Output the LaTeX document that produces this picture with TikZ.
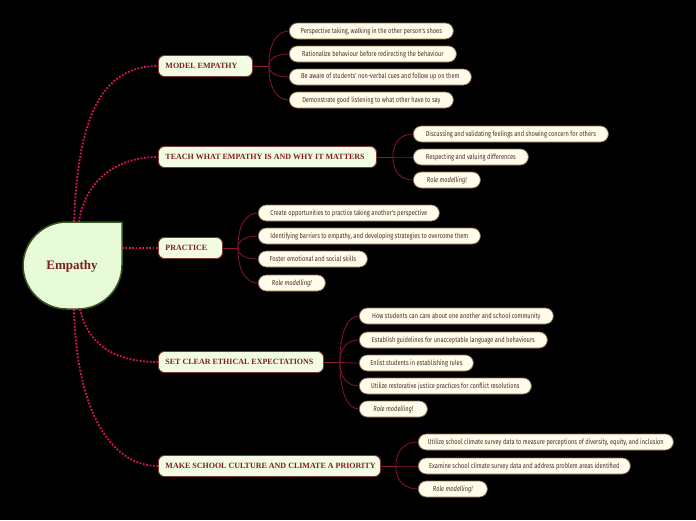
\documentclass[tikz,border=0pt]{standalone}
\usepackage{fontspec}
\setmainfont{Liberation Serif}
\newfontfamily\cfont[FakeStretch=0.79]{Fira Sans}
\usetikzlibrary{calc}
\definecolor{bgc}{HTML}{000000}
\definecolor{mainfill}{HTML}{F2FCE2}
\definecolor{mainborder}{HTML}{7A3A2E}
\definecolor{maintext}{HTML}{7A1F24}
\definecolor{childfill}{HTML}{FFFDEA}
\definecolor{childborder}{HTML}{8C6E50}
\definecolor{childtext}{HTML}{4A2C2A}
\definecolor{centerfill}{HTML}{E8FBD8}
\definecolor{centerborder}{HTML}{33591E}
\definecolor{dotline}{HTML}{E0105A}
\definecolor{thinline}{HTML}{8B1538}
\newcommand\clinkto[2]{\draw[clink] (#1) .. controls ($(#1)!0.7!(#1 |- #2.west)$) and ($(#1 |- #2.west)!0.45!(#2.west)$) .. (#2.west);}
\begin{document}
\begin{tikzpicture}[x=1pt,y=-1pt,
  mainbox/.style={draw=mainborder, line width=0.9pt, fill=mainfill, rounded corners=6pt,
    minimum height=21pt, inner xsep=7pt, inner ysep=0pt, anchor=west, text=maintext,
    font=\fontsize{8}{9}\selectfont\bfseries},
  childbox/.style={draw=childborder, line width=0.7pt, fill=childfill, rounded corners=8pt,
    minimum height=16pt, minimum width=#1, inner sep=0pt, anchor=west, text=childtext,
    font=\cfont\fontsize{7.2}{8}\selectfont},
  dotlink/.style={draw=dotline, line width=1.8pt, dash pattern=on 1.8pt off 1.6pt},
  clink/.style={draw=thinline, line width=0.8pt},
  stub/.style={draw=thinline, line width=1pt}]
\fill[bgc] (0,0) rectangle (696,520);

% central node
\draw[centerborder, fill=centerfill, line width=1.5pt, rounded corners=44pt, line cap=rect]
  (122,222) -- (122,309) -- (23,309) -- (23,222) -- (122,222);
\node[text=maintext, font=\fontsize{13}{15}\selectfont\bfseries] (emp) at (72,266) {Empathy};
\coordinate (ct1) at (74,222);
\coordinate (ct2) at (79,222);
\coordinate (cr) at (122,248);
\coordinate (cb1) at (80,309);
\coordinate (cb2) at (74,309);

% main nodes
\node[mainbox] (m1) at (158,66) {\makebox[80pt][l]{MODEL EMPATHY}};
\node[mainbox] (m2) at (158,157) {\makebox[204pt][l]{TEACH WHAT EMPATHY IS AND WHY IT MATTERS}};
\node[mainbox] (m3) at (158,248) {\makebox[50pt][l]{PRACTICE}};
\node[mainbox] (m4) at (158,362) {\makebox[151pt][l]{SET CLEAR ETHICAL EXPECTATIONS}};
\node[mainbox] (m5) at (158,466) {\makebox[208pt][l]{MAKE SCHOOL CULTURE AND CLIMATE A PRIORITY}};

% center links
\draw[dotlink] (ct1) .. controls (78,110) and (105,66) .. (m1.west);
\draw[dotlink] (ct2) .. controls (84,185) and (112,157) .. (m2.west);
\draw[dotlink] (cr) -- (m3.west);
\draw[dotlink] (cb1) .. controls (88,345) and (115,362) .. (m4.west);
\draw[dotlink] (cb2) .. controls (76,405) and (108,466) .. (m5.west);

% children
\node[childbox=164pt] (c11) at (289,31) {Perspective taking, walking in the other person's shoes};
\node[childbox=167pt] (c12) at (289,54) {Rationalize behaviour before redirecting the behaviour};
\node[childbox=182pt] (c13) at (289,77) {Be aware of students' non-verbal cues and follow up on them};
\node[childbox=164pt] (c14) at (289,100) {Demonstrate good listening to what other have to say};

\node[childbox=195pt] (c21) at (413,134) {Discussing and validating feelings and showing concern for others};
\node[childbox=115pt] (c22) at (413,157) {Respecting and valuing differences};
\node[childbox=67pt] (c23) at (413,180) {\itshape Role modelling!};

\node[childbox=181pt] (c31) at (258,213) {Create opportunities to practice taking another's perspective};
\node[childbox=222pt] (c32) at (258,236) {Identifying barriers to empathy, and developing strategies to overcome them};
\node[childbox=109pt] (c33) at (258,259) {Foster emotional and social skills};
\node[childbox=67pt] (c34) at (258,283) {\itshape Role modelling!};

\node[childbox=194pt] (c41) at (359,316) {How students can care about one another and school community};
\node[childbox=188pt] (c42) at (359,340) {Establish guidelines for unacceptable language and behaviours};
\node[childbox=114pt] (c43) at (359,363) {Enlist students in establishing rules};
\node[childbox=172pt] (c44) at (359,386) {Utilize restorative justice practices for conflict resolutions};
\node[childbox=68pt] (c45) at (359,409) {\itshape Role modelling!};

\node[childbox=255pt] (c51) at (418,442) {Utilize school climate survey data to measure perceptions of diversity, equity, and inclusion};
\node[childbox=212pt] (c52) at (418,466) {Examine school climate survey data and address problem areas identified};
\node[childbox=69pt] (c53) at (418,489) {\itshape Role modelling!};

% branch points
\coordinate (b1) at ($(m1.east)+(16,0)$);
\coordinate (b2) at ($(m2.east)+(16,0)$);
\coordinate (b3) at ($(m3.east)+(15,0)$);
\coordinate (b4) at ($(m4.east)+(16,0)$);
\coordinate (b5) at ($(m5.east)+(15,0)$);
\draw[stub] (m1.east) -- (b1);
\draw[stub] (m2.east) -- (b2);
\draw[stub] (m3.east) -- (b3);
\draw[stub] (m4.east) -- (b4);
\draw[stub] (m5.east) -- (b5);

\clinkto{b1}{c11}\clinkto{b1}{c12}\clinkto{b1}{c13}\clinkto{b1}{c14}
\clinkto{b2}{c21}\clinkto{b2}{c22}\clinkto{b2}{c23}
\clinkto{b3}{c31}\clinkto{b3}{c32}\clinkto{b3}{c33}\clinkto{b3}{c34}
\clinkto{b4}{c41}\clinkto{b4}{c42}\clinkto{b4}{c43}\clinkto{b4}{c44}\clinkto{b4}{c45}
\clinkto{b5}{c51}\clinkto{b5}{c52}\clinkto{b5}{c53}
\end{tikzpicture}
\end{document}
